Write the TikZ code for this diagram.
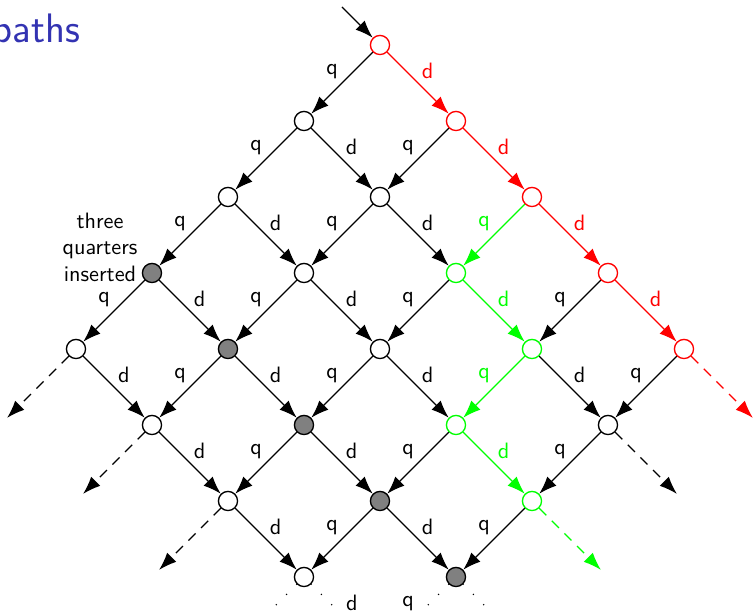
\documentclass[tikz,border=0pt]{standalone}
\usepackage{tikz}
\usetikzlibrary{arrows.meta}

\definecolor{titleblue}{rgb}{0.2,0.2,0.7}

\begin{document}
\begin{tikzpicture}[
  x=1.2cm,
  y=1.2cm,
  font=\sffamily,
  state/.style={
    circle,
    draw,
    fill=white,
    line width=0.6pt,
    minimum size=8.6pt,
    inner sep=0pt
  },
  redstate/.style={state, draw=red},
  greenstate/.style={state, draw=green},
  fullstate/.style={state, fill=gray},
  ghost/.style={circle, minimum size=8.6pt, inner sep=0pt},
  move/.style={-{Latex[length=8pt,width=5.8pt]}, line width=0.6pt},
  loose/.style={move, dash pattern=on 4.5pt off 3.5pt},
  fade/.style={line width=0.7pt, line cap=round, dash pattern=on 0pt off 6.5pt},
  lq/.style={midway, above left, inner sep=1.5pt},
  ld/.style={midway, above right, inner sep=1.5pt}
]

\useasboundingbox (-5,-7.461) rectangle (4.908,0.592);
\clip (-5,-7.461) rectangle (4.908,0.592);

% Title
\node[anchor=base west, inner sep=0pt, text=titleblue, font=\sffamily\fontsize{18.5}{22}\selectfont] (title) at (-5.1,0.03) {paths};

% Lattice
\node[redstate] (n00) at (0,0) {};

\node[state] (n10) at (-1,-1) {};
\node[redstate] (n11) at (1,-1) {};

\node[state] (n20) at (-2,-2) {};
\node[state] (n21) at (0,-2) {};
\node[redstate] (n22) at (2,-2) {};

\node[fullstate] (n30) at (-3,-3) {};
\node[state] (n31) at (-1,-3) {};
\node[greenstate] (n32) at (1,-3) {};
\node[redstate] (n33) at (3,-3) {};

\node[state] (n40) at (-4,-4) {};
\node[fullstate] (n41) at (-2,-4) {};
\node[state] (n42) at (0,-4) {};
\node[greenstate] (n43) at (2,-4) {};
\node[redstate] (n44) at (4,-4) {};

\node[state] (n51) at (-3,-5) {};
\node[fullstate] (n52) at (-1,-5) {};
\node[greenstate] (n53) at (1,-5) {};
\node[state] (n54) at (3,-5) {};

\node[state] (n62) at (-2,-6) {};
\node[fullstate] (n63) at (0,-6) {};
\node[greenstate] (n64) at (2,-6) {};

\node[state] (n73) at (-1,-7) {};
\node[fullstate] (n74) at (1,-7) {};

% Positions just off the picture
\node[ghost] (n50) at (-5,-5) {};
\node[ghost] (n55) at (5,-5) {};
\node[ghost] (n61) at (-4,-6) {};
\node[ghost] (n65) at (4,-6) {};
\node[ghost] (n72) at (-3,-7) {};
\node[ghost] (n75) at (3,-7) {};
\node[ghost] (n83) at (-2,-8) {};
\node[ghost] (n84) at (0,-8) {};
\node[ghost] (n85) at (2,-8) {};
\coordinate (entry) at (-0.5,0.5);

\node[align=center, inner sep=0pt] (insnote) at (-3.684,-2.66) {three\\quarters\\inserted};

% Entry
\draw[move] (entry) -- (n00);

% q moves
\draw[move] (n00) -- node[lq] {q} (n10);
\draw[move] (n10) -- node[lq] {q} (n20);
\draw[move] (n11) -- node[lq] {q} (n21);
\draw[move] (n20) -- node[lq] {q} (n30);
\draw[move] (n21) -- node[lq] {q} (n31);
\draw[move, green] (n22) -- node[lq] {q} (n32);
\draw[move] (n30) -- node[lq] {q} (n40);
\draw[move] (n31) -- node[lq] {q} (n41);
\draw[move] (n32) -- node[lq] {q} (n42);
\draw[move] (n33) -- node[lq] {q} (n43);
\draw[move] (n41) -- node[lq] {q} (n51);
\draw[move] (n42) -- node[lq] {q} (n52);
\draw[move, green] (n43) -- node[lq] {q} (n53);
\draw[move] (n44) -- node[lq] {q} (n54);
\draw[move] (n52) -- node[lq] {q} (n62);
\draw[move] (n53) -- node[lq] {q} (n63);
\draw[move] (n54) -- node[lq] {q} (n64);
\draw[move] (n63) -- node[lq] {q} (n73);
\draw[move] (n64) -- node[lq] {q} (n74);

% d moves
\draw[move, red] (n00) -- node[ld] {d} (n11);
\draw[move] (n10) -- node[ld] {d} (n21);
\draw[move, red] (n11) -- node[ld] {d} (n22);
\draw[move] (n20) -- node[ld] {d} (n31);
\draw[move] (n21) -- node[ld] {d} (n32);
\draw[move, red] (n22) -- node[ld] {d} (n33);
\draw[move] (n30) -- node[ld] {d} (n41);
\draw[move] (n31) -- node[ld] {d} (n42);
\draw[move, green] (n32) -- node[ld] {d} (n43);
\draw[move, red] (n33) -- node[ld] {d} (n44);
\draw[move] (n40) -- node[ld] {d} (n51);
\draw[move] (n41) -- node[ld] {d} (n52);
\draw[move] (n42) -- node[ld] {d} (n53);
\draw[move] (n43) -- node[ld] {d} (n54);
\draw[move] (n51) -- node[ld] {d} (n62);
\draw[move] (n52) -- node[ld] {d} (n63);
\draw[move, green] (n53) -- node[ld] {d} (n64);
\draw[move] (n62) -- node[ld] {d} (n73);
\draw[move] (n63) -- node[ld] {d} (n74);

% Leaving the picture
\draw[loose] (n40) -- (n50);
\draw[loose] (n51) -- (n61);
\draw[loose] (n62) -- (n72);
\draw[loose, red] (n44) -- (n55);
\draw[loose] (n54) -- (n65);
\draw[loose, green] (n64) -- (n75);

\draw[fade] (n73) -- (n83);
\draw[fade] (n73) -- node[ld] {d} (n84);
\draw[fade] (n74) -- node[lq] {q} (n84);
\draw[fade] (n74) -- (n85);

\end{tikzpicture}
\end{document}
